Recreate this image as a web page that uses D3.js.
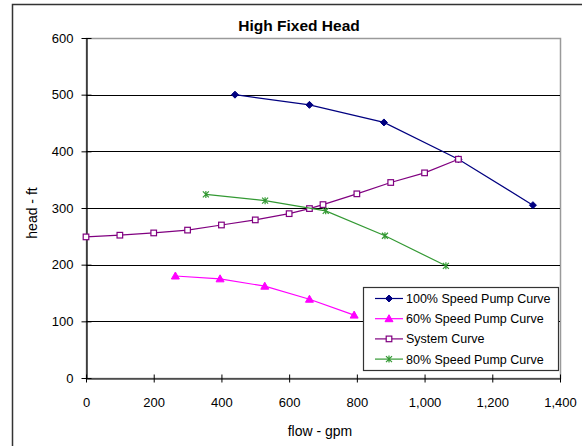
<!DOCTYPE html>
<html>
<head>
<meta charset="utf-8">
<script src="https://cdn.jsdelivr.net/npm/d3@7"></script>
<style>
  html, body { margin: 0; padding: 0; background: #fff; }
  svg { display: block; font-family: "Liberation Sans", Arial, sans-serif; }
</style>
</head>
<body>
<svg id="chart" width="582" height="446"></svg>
<script>
// Pump curves (flow in gpm, head in ft)
const pump100Flow = [440, 660, 880, 1100, 1320];
const pump100Head = [500, 482, 451, 386, 305];

const pump60Flow = [264, 396, 528, 660, 792];
const pump60Head = [180, 175, 162, 139, 111];

const systemFlow = [0, 100, 200, 300, 400, 500, 600, 660, 700, 800, 900, 1000, 1100];
const systemHead = [249, 252, 256, 261, 270, 279, 290, 299, 306, 325, 345, 362, 386];

const pump80Flow = [354, 529, 708, 883, 1063];
const pump80Head = [324, 313, 295, 251, 198];

const xTicks = [0, 200, 400, 600, 800, 1000, 1200, 1400];
const yTicks = [0, 100, 200, 300, 400, 500, 600];

const series = [
  { name: "100% Speed Pump Curve", flow: pump100Flow, head: pump100Head, color: "#000080", marker: "diamond" },
  { name: "60% Speed Pump Curve",  flow: pump60Flow,  head: pump60Head,  color: "#ff00ff", marker: "triangle" },
  { name: "System Curve",          flow: systemFlow,  head: systemHead,  color: "#800080", marker: "square" },
  { name: "80% Speed Pump Curve",  flow: pump80Flow,  head: pump80Head,  color: "#339933", marker: "star" }
];

const svg = d3.select("#chart");

// outer chart frame
svg.append("rect").attr("x", 12.5).attr("y", 4.5).attr("width", 600).attr("height", 460)
  .attr("fill", "#fff").attr("stroke", "#333").attr("stroke-width", 1.5);

const plot = { left: 86, right: 560, top: 38, bottom: 378 };
const x = d3.scaleLinear().domain([0, 1400]).range([plot.left, plot.right]);
const y = d3.scaleLinear().domain([0, 600]).range([plot.bottom, plot.top]);

// plot area border
svg.append("rect").attr("x", plot.left + 0.5).attr("y", plot.top + 0.5)
  .attr("width", plot.right - plot.left).attr("height", plot.bottom - plot.top)
  .attr("fill", "none").attr("stroke", "#9a9a9a").attr("stroke-width", 1.5);

// horizontal gridlines
svg.append("g").selectAll("line").data(yTicks.filter(v => v > 0 && v < 600)).join("line")
  .attr("x1", plot.left).attr("x2", plot.right)
  .attr("y1", d => Math.round(y(d)) + 0.5).attr("y2", d => Math.round(y(d)) + 0.5)
  .attr("stroke", "#000").attr("stroke-width", 1.2);

// axes
const fmt = d3.format(",");
const xAxis = svg.append("g").attr("transform", `translate(0,${plot.bottom + 0.5})`)
  .call(d3.axisBottom(x).tickValues(xTicks).tickFormat(fmt).tickSizeInner(4).tickSizeOuter(0).tickPadding(15));
const yAxis = svg.append("g").attr("transform", `translate(${plot.left + 0.5},0)`)
  .call(d3.axisLeft(y).tickValues(yTicks).tickSizeInner(4).tickSizeOuter(0).tickPadding(9));

[xAxis, yAxis].forEach(g => {
  g.select(".domain").attr("stroke", "#000").attr("stroke-width", 1.2);
  g.selectAll(".tick line").attr("stroke", "#000");
  g.selectAll(".tick text").attr("fill", "#000").style("font-size", "13px")
    .style("font-family", "'Liberation Sans', Arial, sans-serif");
});
// ticks cross the axis lines
xAxis.selectAll(".tick line").attr("y1", -4).attr("y2", 4);
yAxis.selectAll(".tick line").attr("x1", -5).attr("x2", 5);

// title and axis labels
svg.append("text").attr("x", 299).attr("y", 31).attr("text-anchor", "middle")
  .style("font-size", "15.5px").style("font-weight", "bold").text("High Fixed Head");
svg.append("text").attr("x", 320).attr("y", 436).attr("text-anchor", "middle")
  .style("font-size", "14px").text("flow - gpm");
svg.append("text").attr("transform", "translate(37,213) rotate(-90)").attr("text-anchor", "middle")
  .style("font-size", "14px").text("head - ft");

// marker drawing
function drawMarker(g, type, color) {
  if (type === "diamond") {
    g.append("path").attr("d", "M0,-3.5L3.5,0L0,3.5L-3.5,0Z").attr("fill", color).attr("stroke", color);
  } else if (type === "triangle") {
    g.append("path").attr("d", "M0,-4L4,3L-4,3Z").attr("fill", color).attr("stroke", color);
  } else if (type === "square") {
    g.append("rect").attr("x", -2.8).attr("y", -2.8).attr("width", 5.6).attr("height", 5.6)
      .attr("fill", "#fff").attr("stroke", color).attr("stroke-width", 1.2);
  } else if (type === "star") {
    g.append("path").attr("d", "M-3,-3L3,3M-3,3L3,-3M0,-3.5L0,3.5")
      .attr("fill", "none").attr("stroke", color).attr("stroke-width", 1.2);
  }
}

const line = d3.line().x(d => x(d[0])).y(d => y(d[1]));

series.forEach(s => {
  const pts = s.flow.map((f, i) => [f, s.head[i]]);
  svg.append("path").datum(pts).attr("d", line)
    .attr("fill", "none").attr("stroke", s.color).attr("stroke-width", 1.2);
  pts.forEach(p => {
    const g = svg.append("g").attr("transform", `translate(${x(p[0])},${y(p[1])})`);
    drawMarker(g, s.marker, s.color);
  });
});

// legend
const legend = svg.append("g");
legend.append("rect").attr("x", 363.5).attr("y", 287.5).attr("width", 195).attr("height", 83)
  .attr("fill", "#fff").attr("stroke", "#333").attr("stroke-width", 1.2);
series.forEach((s, i) => {
  const cy = 298.5 + i * 20.2;
  const g = legend.append("g");
  g.append("line").attr("x1", 375).attr("x2", 403).attr("y1", cy).attr("y2", cy)
    .attr("stroke", s.color).attr("stroke-width", 1.2);
  drawMarker(g.append("g").attr("transform", `translate(389,${cy})`), s.marker, s.color);
  g.append("text").attr("x", 406).attr("y", cy + 4.5).style("font-size", "12.5px").text(s.name);
});
</script>
</body>
</html>
